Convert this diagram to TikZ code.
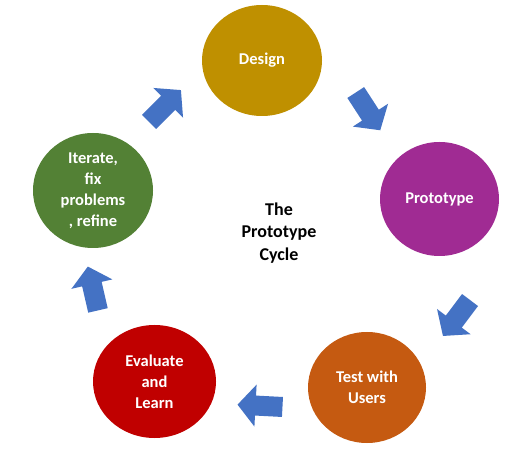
\documentclass[tikz,border=0pt]{standalone}
\usepackage{fontspec}
\setmainfont{Carlito}
\usetikzlibrary{shapes.geometric}
\definecolor{cDesign}{HTML}{BF9000}
\definecolor{cProto}{HTML}{A02B93}
\definecolor{cTest}{HTML}{C55A11}
\definecolor{cEval}{HTML}{C00000}
\definecolor{cIter}{HTML}{538135}
\definecolor{cArrow}{HTML}{4472C4}
\tikzset{
  stage/.style={ellipse, inner sep=0pt, text=white, font=\fontsize{16.5}{21}\selectfont\bfseries, align=center},
  blockarrow/.pic={\fill[cArrow] (-22.5,-10) -- (4.5,-10) -- (4.5,-21) -- (22.5,0) -- (4.5,21) -- (4.5,10) -- (-22.5,10) -- cycle;}
}
\begin{document}
\begin{tikzpicture}[x=1pt,y=-1pt]
\useasboundingbox[fill=white] (0,0) rectangle (525,462);
\node[stage, fill=cDesign, minimum width=120, minimum height=111] (design) at (262,60.5) {Design};
\node[stage, fill=cProto, minimum width=119, minimum height=114] (proto) at (439.5,199) {Prototype};
\node[stage, fill=cTest, minimum width=118, minimum height=111] (test) at (367,387.5) {Test with\\Users};
\node[stage, fill=cEval, minimum width=123, minimum height=113] (eval) at (154.5,381.5) {Evaluate\\and\\Learn};
\node[stage, fill=cIter, minimum width=120, minimum height=115] (iter) at (93,190.5) {Iterate,\\fix\\problems\\, refine};
\node[font=\fontsize{18}{22.5}\selectfont\bfseries, align=center] (title) at (279,233) {The\\Prototype\\Cycle};
\pic[rotate=45] (a1) at (165,106) {blockarrow};
\pic[rotate=-57] (a2) at (368,111.4) {blockarrow};
\pic[rotate=233] (a3) at (456.5,318) {blockarrow};
\pic[rotate=177] (a4) at (260,405.8) {blockarrow};
\pic[rotate=103] (a5) at (92.9,288.5) {blockarrow};
\end{tikzpicture}
\end{document}
